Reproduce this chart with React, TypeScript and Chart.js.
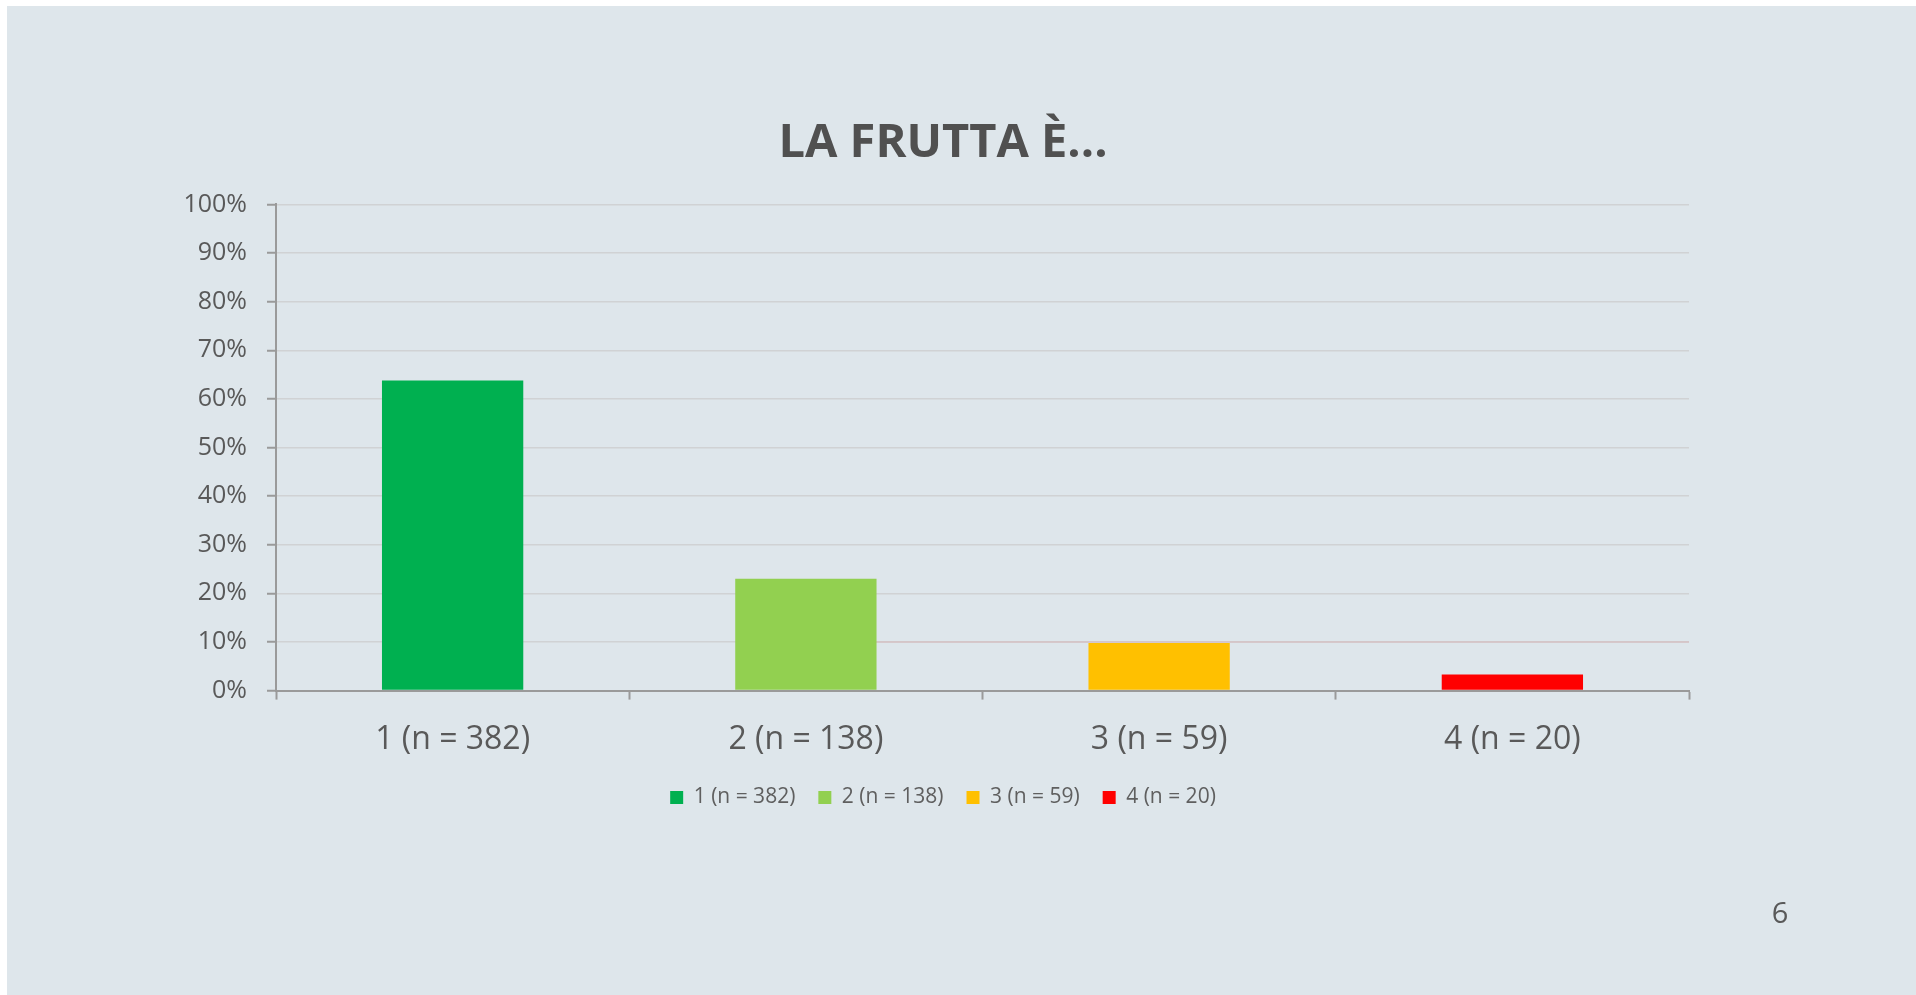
import React, { useEffect, useRef } from "react";
import { Chart, registerables } from "chart.js";

Chart.register(...registerables);

const title = "LA FRUTTA È...";
const categories = ["1 (n = 382)", "2 (n = 138)", "3 (n = 59)", "4 (n = 20)"];
const shares = [63.8, 23.0, 9.8, 3.3];
const barColors = ["#00B050", "#92D050", "#FFC000", "#FF0000"];
const yMin = 0;
const yMax = 100;
const yStep = 10;
const refLineValue = 10;
const refLineFromIndex = 1;
const pageNumber = "6";

const FONT = "'Open Sans', 'Noto Sans', sans-serif";

const refLinePlugin = {
  id: "refLine",
  beforeDatasetsDraw(chart: any) {
    const { ctx, chartArea, scales } = chart;
    const y = scales.y.getPixelForValue(refLineValue);
    const x0 = scales.x.getPixelForValue(refLineFromIndex);
    ctx.save();
    ctx.strokeStyle = "rgba(214,194,196,1)";
    ctx.lineWidth = 1.5;
    ctx.beginPath();
    ctx.moveTo(x0, y);
    ctx.lineTo(chartArea.right, y);
    ctx.stroke();
    ctx.restore();
  },
};

export default function App() {
  const ref = useRef<HTMLCanvasElement | null>(null);

  useEffect(() => {
    if (!ref.current) return;
    const chart = new Chart(ref.current, {
      type: "bar",
      data: {
        labels: categories,
        datasets: [
          {
            data: shares,
            backgroundColor: barColors,
            borderWidth: 0,
            barPercentage: 0.4,
            categoryPercentage: 1,
            yAxisID: "y",
          },
        ],
      },
      plugins: [refLinePlugin],
      options: {
        responsive: false,
        animation: false,
        maintainAspectRatio: false,
        layout: { padding: { left: 176, right: 213, top: 0, bottom: 177 } },
        plugins: {
          tooltip: { enabled: false },
          title: {
            display: true,
            text: title,
            color: "#505050",
            font: { family: FONT, size: 47, weight: "bold" },
            padding: { top: 109, bottom: 33 },
          },
          legend: {
            display: true,
            position: "bottom",
            labels: {
              color: "#5F5F5F",
              font: { family: FONT, size: 21 },
              boxWidth: 13,
              boxHeight: 13,
              padding: 23,
              generateLabels: () =>
                categories.map((c, i) => ({
                  text: c,
                  fillStyle: barColors[i],
                  strokeStyle: barColors[i],
                  fontColor: "#5F5F5F",
                  lineWidth: 0,
                  hidden: false,
                  index: i,
                  datasetIndex: 0,
                })),
            },
          },
        },
        scales: {
          x: {
            afterFit: (scale: any) => {
              scale.height = scale.height - 16;
            },
            grid: {
              display: true,
              offset: true,
              drawOnChartArea: false,
              drawTicks: true,
              tickLength: 9,
              tickColor: "#9A9A9A",
              tickWidth: 2,
            },
            border: { display: true, color: "#9A9A9A", width: 2 },
            ticks: {
              color: "#595959",
              font: { family: FONT, size: 32 },
              padding: 21,
            },
          },
          y: {
            min: yMin,
            max: yMax,
            afterFit: (scale: any) => {
              scale.width = 93;
            },
            grid: {
              color: "#D0D2D4",
              lineWidth: 1.5,
              tickColor: "#9A9A9A",
              tickLength: 9,
              tickWidth: 2,
            },
            border: { display: true, color: "#9A9A9A", width: 2 },
            ticks: {
              stepSize: yStep,
              color: "#595959",
              font: { family: FONT, size: 25 },
              padding: 20,
              callback: (v: any) => `${v}%`,
            },
          },
          spacer: {
            type: "linear",
            position: "right",
            display: true,
            grid: { display: false, drawTicks: false },
            border: { display: false },
            ticks: { display: false },
            afterFit: (scale: any) => {
              scale.width = 14;
            },
          },
        },
      },
    });
    return () => chart.destroy();
  }, []);

  return (
    <div
      style={{
        position: "fixed",
        left: 7,
        top: 6,
        right: 0,
        bottom: 0,
        background: "rgb(222,230,235)",
        overflow: "hidden",
      }}
    >
      <canvas
        ref={ref}
        width={1909}
        height={989}
        style={{ position: "absolute", left: 0, top: 0, width: 1909, height: 989 }}
      />
      <div
        style={{
          position: "absolute",
          left: 1773 - 7 - 20,
          top: 893 - 6,
          width: 54,
          textAlign: "center",
          fontFamily: FONT,
          fontSize: 29,
          lineHeight: "38px",
          color: "#595959",
        }}
      >
        {pageNumber}
      </div>
    </div>
  );
}
